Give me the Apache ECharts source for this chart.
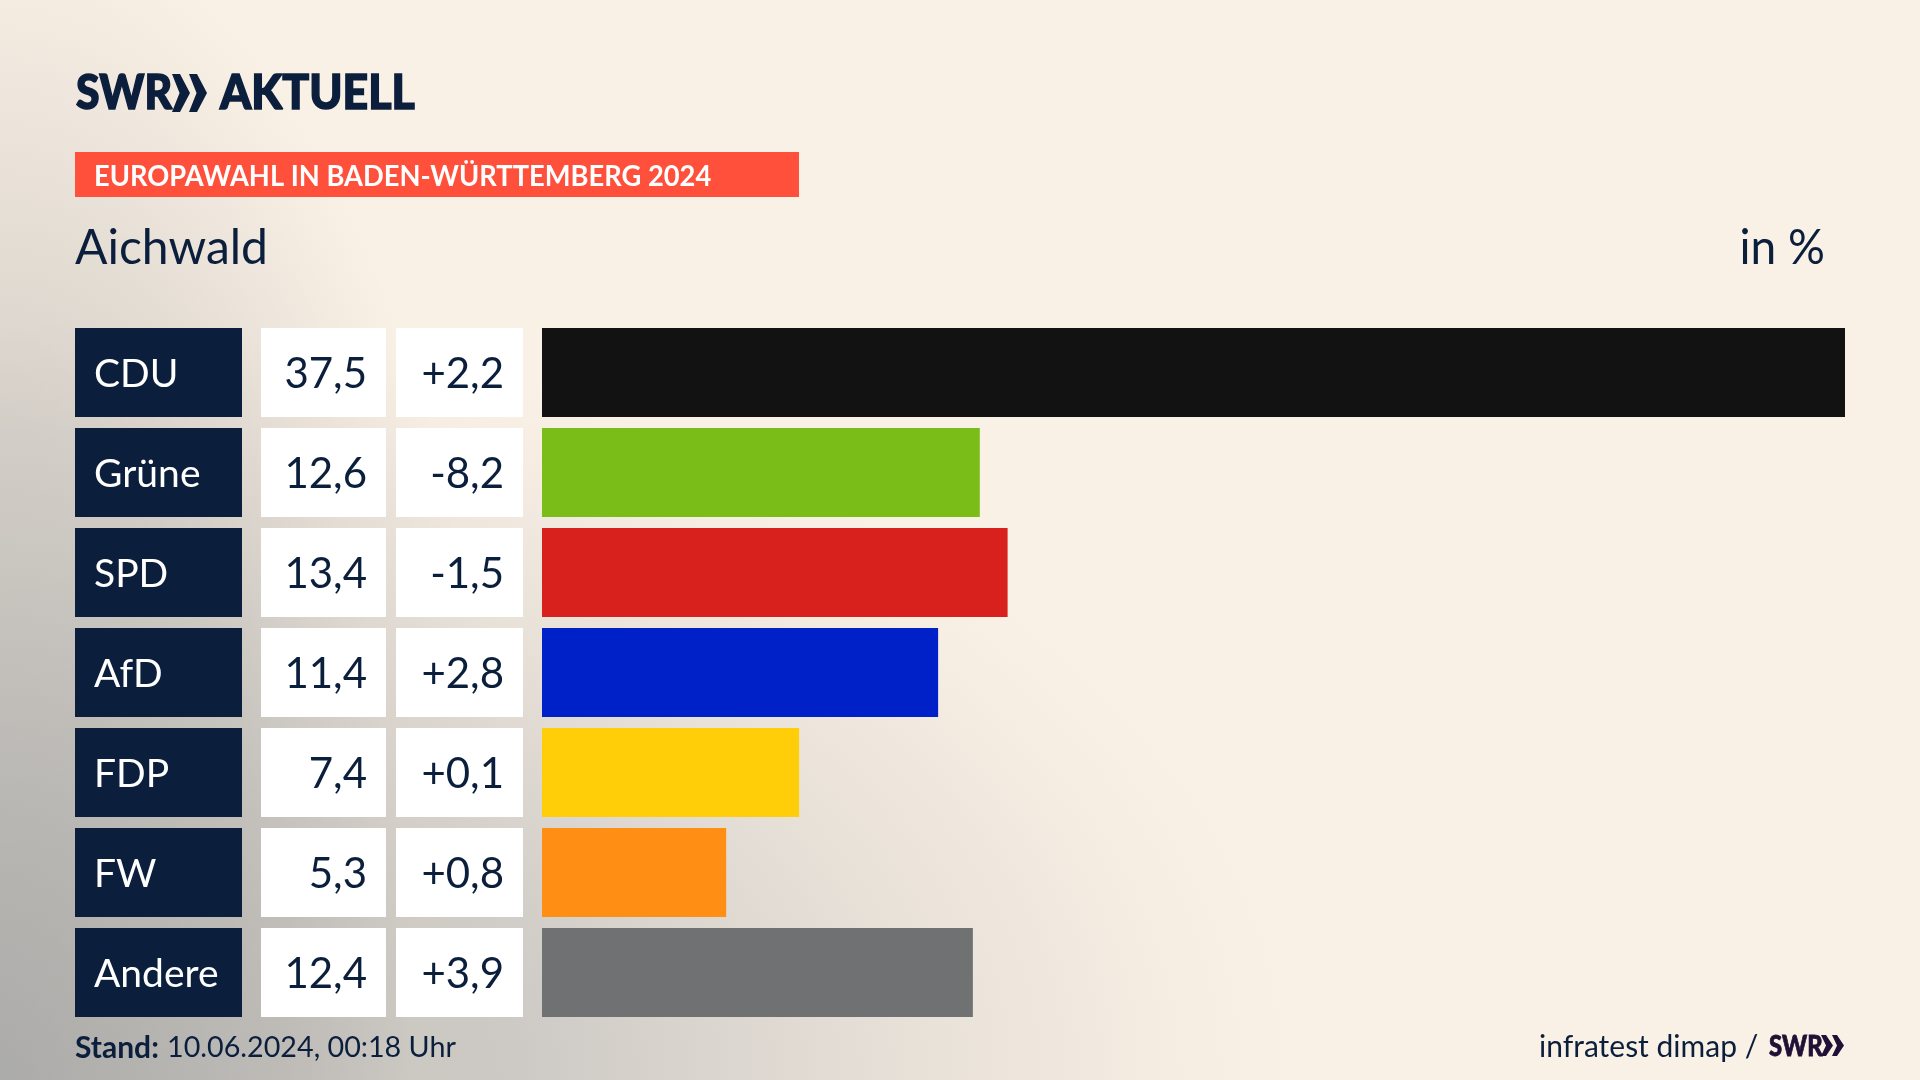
<!DOCTYPE html>
<html lang="de">
<head>
<meta charset="utf-8">
<title>Europawahl Aichwald</title>
<script src="https://cdn.jsdelivr.net/npm/echarts@6/dist/echarts.min.js"></script>
<style>
  html, body { margin: 0; width: 1920px; height: 1080px; overflow: hidden; }
  body {
    background-color: #faf1e6;
    background-image:
      radial-gradient(ellipse 520px 1180px at 0 100%,
        rgba(170,170,168,.75) 0%, rgba(190,187,182,.6) 55%, rgba(214,208,200,.4) 80%, rgba(250,241,230,0) 100%),
      radial-gradient(ellipse 1300px 760px at 0 100%,
        #b0afad 0%, #c4c1bd 30%, #d8d3cd 52%, #e9e2d9 72%, #f5ece2 90%, #faf1e6 100%);
  }
  #chart { width: 1920px; height: 1080px; }
</style>
</head>
<body>
<div id="chart"></div>
<script>
var parties = ['CDU', 'Grüne', 'SPD', 'AfD', 'FDP', 'FW', 'Andere'];
var shares = [37.5, 12.6, 13.4, 11.4, 7.4, 5.3, 12.4];
var changes = [2.2, -8.2, -1.5, 2.8, 0.1, 0.8, 3.9];
var partyColors = ['#121212', '#7abd18', '#d8201c', '#0020c8', '#ffce08', '#ff8f14', '#707172'];

var ink = '#0b1f3d';
var font = 'Lato, "Noto Sans", sans-serif';

function comma(v) { return v.toFixed(1).replace('.', ','); }
function signed(v) { return (v > 0 ? '+' : '') + comma(v); }

// Text helper, y is the vertical middle of the line
function label(text, x, y, size, weight, fill, scaleX, align, heavy) {
  return {
    type: 'text', x: x, y: y, scaleX: scaleX || 1, silent: true,
    style: {
      text: text, fill: fill || ink, align: align || 'left', verticalAlign: 'middle',
      font: (weight || 'normal') + ' ' + size + 'px ' + font,
      stroke: heavy ? (fill || ink) : null, lineWidth: heavy || 0
    }
  };
}

// Logo chevrons
function chevron(x, top, h, w, t, fill) {
  return {
    type: 'polygon', silent: true,
    shape: { points: [[x, top], [x + t, top], [x + w, top + h / 2], [x + t, top + h], [x, top + h], [x + w * 0.42, top + h / 2]] },
    style: { fill: fill }
  };
}

var chart = echarts.init(document.getElementById('chart'));
chart.setOption({
  animation: false,
  grid: { left: 542, right: 75, top: 322.5, height: 700 },
  xAxis: { type: 'value', min: 0, max: 37.5, show: false },
  yAxis: {
    type: 'category', inverse: true, data: parties,
    axisLine: { show: false }, axisTick: { show: false },
    axisLabel: {
      interval: 0, margin: 19, fontFamily: font,
      formatter: function (name, i) {
        return '{n|' + name + '}{g|}{v|' + comma(shares[i]) + '}{h|}{d|' + signed(changes[i]) + '}';
      },
      rich: {
        n: { width: 148, height: 86, padding: [3, 0, 0, 19], align: 'left', backgroundColor: ink, color: '#fff', fontSize: 39, fontFamily: font },
        g: { width: 19, height: 89, align: 'right' },
        v: { width: 106, height: 86, padding: [3, 19, 0, 0], align: 'right', backgroundColor: '#fff', color: ink, fontSize: 42, fontFamily: font },
        h: { width: 10, height: 89, align: 'right' },
        d: { width: 108, height: 86, padding: [3, 19, 0, 0], align: 'right', backgroundColor: '#fff', color: ink, fontSize: 42, fontFamily: font }
      }
    }
  },
  series: [{
    type: 'bar', barWidth: 89, silent: true,
    data: shares.map(function (v, i) { return { value: v, itemStyle: { color: partyColors[i] } }; })
  }],
  graphic: [
    label('SWR', 76, 94, 48, 900, ink, 0.89, 'left', 1.5),
    chevron(172, 74, 38, 18, 8, ink),
    chevron(189, 74, 38, 18, 8, ink),
    label('AKTUELL', 220, 94, 48, 900, ink, 0.93, 'left', 1.5),
    { type: 'rect', silent: true, shape: { x: 75, y: 152, width: 724, height: 45 }, style: { fill: '#ff503c' } },
    label('EUROPAWAHL IN BADEN-WÜRTTEMBERG 2024', 94, 176.5, 28, 'bold', '#fff', 0.975),
    label('Aichwald', 75, 249, 48),
    label('in %', 1825, 249, 48, 'normal', ink, 0.96, 'right'),
    label('Stand:', 75, 1048, 30, 'bold'),
    label('10.06.2024, 00:18 Uhr', 167, 1048, 28.7),
    label('infratest dimap /', 1539, 1047, 30),
    label('SWR', 1769, 1047, 28, 900, '#1f1035', 0.85, 'left', 0.8),
    chevron(1821, 1035, 21, 12, 5, '#1f1035'),
    chevron(1832, 1035, 21, 12, 5, '#1f1035')
  ]
});
</script>
</body>
</html>
